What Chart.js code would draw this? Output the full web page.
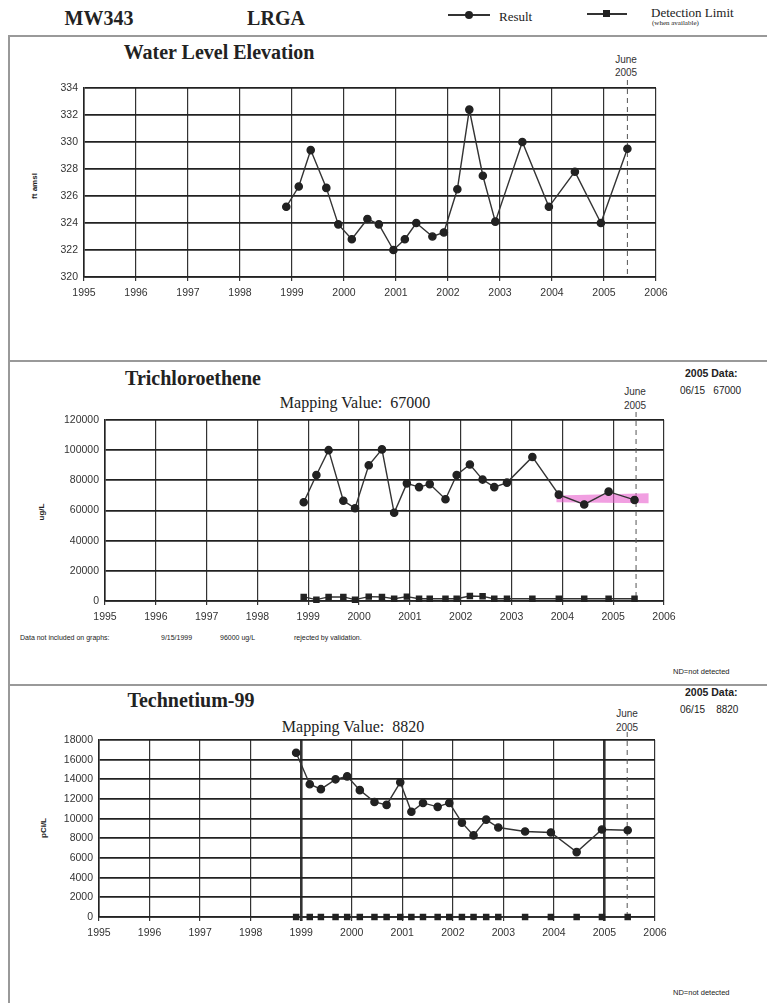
<!DOCTYPE html>
<html><head><meta charset="utf-8">
<script src="https://cdn.jsdelivr.net/npm/chart.js@4/dist/chart.umd.min.js"></script>
<style>
body{margin:0;background:#fff;width:767px;height:1003px;overflow:hidden;position:relative;font-family:"Liberation Sans",Arial,sans-serif;color:#222;}
.t{position:absolute;white-space:nowrap;transform:translate(-50%,-50%);line-height:1;}
.l{position:absolute;white-space:nowrap;transform:translateY(-50%);line-height:1;}
.serif{font-family:"Liberation Serif","Times New Roman",serif;}
.b{font-weight:bold;}
.rot{position:absolute;white-space:nowrap;transform:translate(-50%,-50%) rotate(-90deg);font-size:8px;font-weight:bold;line-height:1;}
.hl{position:absolute;background:#999;}
canvas{position:absolute;left:0;}
.sm{font-size:10.5px;color:#333;}
</style></head><body>

<!-- frame -->
<div class="hl" style="left:8px;top:35px;width:759px;height:2px"></div>
<div class="hl" style="left:8px;top:360px;width:759px;height:2px"></div>
<div class="hl" style="left:8px;top:684px;width:759px;height:2px"></div>
<div class="hl" style="left:8px;top:35px;width:2px;height:968px"></div>

<!-- header -->
<div class="t serif b" style="left:99px;top:18px;font-size:20px">MW343</div>
<div class="t serif b" style="left:276px;top:18px;font-size:20px">LRGA</div>
<div style="position:absolute;left:448px;top:14px;width:42px;height:1.5px;background:#333"></div>
<div style="position:absolute;left:465px;top:11px;width:8px;height:8px;border-radius:50%;background:#222"></div>
<div class="l serif" style="left:499px;top:16px;font-size:13px">Result</div>
<div style="position:absolute;left:587px;top:13px;width:40px;height:1.5px;background:#333"></div>
<div style="position:absolute;left:603px;top:10px;width:7px;height:7px;background:#222"></div>
<div class="l serif" style="left:651px;top:12px;font-size:13px">Detection Limit</div>
<div class="l serif" style="left:652px;top:23px;font-size:7px">(when available)</div>

<!-- panel 1 texts -->
<div class="t serif b" style="left:219px;top:52px;font-size:20px">Water Level Elevation</div>
<div class="t sm" style="left:626px;top:60px;font-size:10px">June</div>
<div class="t sm" style="left:626px;top:73px;font-size:10px">2005</div>
<div class="rot" style="left:35px;top:186px">ft amsl</div>

<!-- panel 2 texts -->
<div class="t serif b" style="left:193px;top:378px;font-size:20px">Trichloroethene</div>
<div class="t serif" style="left:355px;top:403px;font-size:16px">Mapping Value:&nbsp; 67000</div>
<div class="t sm" style="left:635px;top:392px;font-size:10px">June</div>
<div class="t sm" style="left:635px;top:406px;font-size:10px">2005</div>
<div class="l b" style="left:685px;top:373px;font-size:10.5px">2005 Data:</div>
<div class="l" style="left:680px;top:391px;font-size:10px">06/15&nbsp;&nbsp; 67000</div>
<div class="rot" style="left:42px;top:512px">ug/L</div>
<div class="l" style="left:20px;top:637px;font-size:7px">Data not included on graphs:</div>
<div class="l" style="left:161px;top:637px;font-size:7px">9/15/1999</div>
<div class="l" style="left:220px;top:637px;font-size:7px">96000 ug/L</div>
<div class="l" style="left:294px;top:637px;font-size:7px">rejected by validation.</div>
<div class="l" style="left:673px;top:672px;font-size:7.5px">ND=not detected</div>

<!-- panel 3 texts -->
<div class="t serif b" style="left:191px;top:700px;font-size:20px">Technetium-99</div>
<div class="t serif" style="left:353px;top:727px;font-size:16px">Mapping Value:&nbsp; 8820</div>
<div class="t sm" style="left:627px;top:714px;font-size:10px">June</div>
<div class="t sm" style="left:627px;top:728px;font-size:10px">2005</div>
<div class="l b" style="left:685px;top:692px;font-size:10.5px">2005 Data:</div>
<div class="l" style="left:680px;top:710px;font-size:10px">06/15&nbsp;&nbsp;&nbsp; 8820</div>
<div class="rot" style="left:44px;top:828px">pCi/L</div>
<div class="l" style="left:673px;top:993px;font-size:7.5px">ND=not detected</div>

<canvas id="c1" width="767" height="324" style="top:36px"></canvas>
<canvas id="c2" width="767" height="322" style="top:362px"></canvas>
<canvas id="c3" width="767" height="317" style="top:686px"></canvas>

<script>
// ---------- data ----------
const yearTicks = [1995,1996,1997,1998,1999,2000,2001,2002,2003,2004,2005,2006];
const juneDate = 2005.45;

// Water Level Elevation (ft amsl)
const wlDates  = [1998.89,1999.13,1999.36,1999.66,1999.89,2000.15,2000.45,2000.67,2000.95,2001.17,2001.39,2001.70,2001.92,2002.18,2002.41,2002.67,2002.91,2003.43,2003.94,2004.44,2004.94,2005.45];
const wlValues = [325.2,326.7,329.4,326.6,323.9,322.8,324.3,323.9,322.0,322.8,324.0,323.0,323.3,326.5,332.4,327.5,324.1,330.0,325.2,327.8,324.0,329.5];

// Trichloroethene (ug/L)
const tceDates  = [1998.91,1999.16,1999.40,1999.69,1999.92,2000.19,2000.45,2000.69,2000.94,2001.18,2001.39,2001.70,2001.92,2002.18,2002.43,2002.66,2002.91,2003.41,2003.93,2004.43,2004.91,2005.42];
const tceValues = [65500,83500,100000,66500,61500,90000,100500,58500,78000,75500,77500,67500,83500,90500,80500,75500,78500,95500,70500,64000,72500,67000];
const tceDetect = [2700,900,2700,2700,900,2900,2700,1500,2900,1500,1500,1500,1500,3300,3100,1500,1500,1500,1500,1500,1500,1500];
const tceBandDates = [2003.88,2005.70];
const tceBandUpper = [70000,71500];
const tceBandLower = [65500,64800];

// Technetium-99 (pCi/L)
const tcDates  = [1998.90,1999.17,1999.39,1999.68,1999.91,2000.16,2000.45,2000.69,2000.96,2001.18,2001.41,2001.70,2001.93,2002.18,2002.41,2002.66,2002.90,2003.43,2003.94,2004.45,2004.95,2005.46];
const tcValues = [16700,13500,13000,14000,14300,12900,11700,11400,13700,10700,11600,11200,11600,9600,8300,9900,9100,8700,8600,6600,8900,8820];
const tcDetect = [0,0,0,0,0,0,0,0,0,0,0,0,0,0,0,0,0,0,0,0,0,0];
const tcBoldYears = [1999,2005];

// ---------- helpers ----------
const pts = (xs, ys) => xs.map((x,i)=>({x:x, y:ys[i]}));

const juneLine = {
  id:'juneLine',
  beforeDatasetsDraw(chart, args, opts){
    const ctx = chart.ctx;
    const x = chart.scales.x.getPixelForValue(opts.value);
    const {top,bottom} = chart.chartArea;
    ctx.save();
    ctx.setLineDash([5,4]);
    ctx.strokeStyle = '#555';
    ctx.lineWidth = 1;
    ctx.beginPath();
    ctx.moveTo(x, top - 8);
    ctx.lineTo(x, bottom);
    ctx.stroke();
    ctx.restore();
  }
};

const tickFont = {family:'"Liberation Sans", Arial, sans-serif', size:10.5};

function resultDs(data){
  return {data, borderColor:'#333', borderWidth:1.4, backgroundColor:'#222',
    pointBackgroundColor:'#222', pointBorderColor:'#222', pointStyle:'circle',
    pointRadius:3.6, tension:0, clip:false};
}
function detectDs(data){
  return {data, borderColor:'#333', borderWidth:1.4, backgroundColor:'#222',
    pointBackgroundColor:'#222', pointBorderColor:'#222', pointStyle:'rect',
    pointRadius:3.6, tension:0, clip:false};
}

function makeChart(id, datasets, cfg){
  return new Chart(document.getElementById(id), {
    type:'line',
    data:{datasets},
    options:{
      responsive:false, animation:false, devicePixelRatio:1,
      layout:{padding:{top:cfg.padTop, right:cfg.padRight, bottom:cfg.padBottom, left:0}},
      plugins:{legend:{display:false}, tooltip:{enabled:false}, juneLine:{value:juneDate}},
      scales:{
        x:{type:'linear', min:yearTicks[0], max:yearTicks[yearTicks.length-1],
          afterBuildTicks: s => { s.ticks = yearTicks.map(v=>({value:v})); },
          afterFit: s => { s.height = 25; },
          ticks:{font:tickFont, color:'#333', padding:6, maxRotation:0, autoSkip:false, callback:v=>String(v)},
          grid:{color:'#333', lineWidth: cfg.xGridWidth || 1.2, tickLength:4},
          border:{color:'#222', width:1.6}
        },
        y:{min:cfg.yMin, max:cfg.yMax,
          afterFit: s => { s.width = cfg.plotLeft; },
          ticks:{stepSize:cfg.yStep, font:tickFont, color:'#333', padding:6, callback:v=>String(v)},
          grid:{color:'#222', lineWidth:1.8, drawTicks:false},
          border:{color:'#222', width:1.6}
        }
      }
    },
    plugins:[juneLine]
  });
}

// Chart 1: water level
makeChart('c1', [resultDs(pts(wlDates, wlValues))],
  {padTop:52, padRight:111, padBottom:58, plotLeft:84, yMin:320, yMax:334, yStep:2});

// Chart 2: TCE
makeChart('c2', [
  resultDs(pts(tceDates, tceValues)),
  detectDs(pts(tceDates, tceDetect)),
  {data:pts(tceBandDates, tceBandUpper), borderWidth:0, pointRadius:0, fill:'+1', backgroundColor:'rgba(232,95,205,0.6)', borderColor:'rgba(0,0,0,0)'},
  {data:pts(tceBandDates, tceBandLower), borderWidth:0, pointRadius:0, fill:false, borderColor:'rgba(0,0,0,0)'}
], {padTop:58, padRight:103, padBottom:58, plotLeft:105, yMin:0, yMax:120000, yStep:20000});

// Chart 3: Tc-99
makeChart('c3', [
  resultDs(pts(tcDates, tcValues)),
  detectDs(pts(tcDates, tcDetect))
], {padTop:54, padRight:112, padBottom:61, plotLeft:99, yMin:0, yMax:18000, yStep:2000,
    xGridWidth: ctx => (ctx.tick && tcBoldYears.includes(ctx.tick.value)) ? 2.6 : 1.2});
</script>
</body></html>
